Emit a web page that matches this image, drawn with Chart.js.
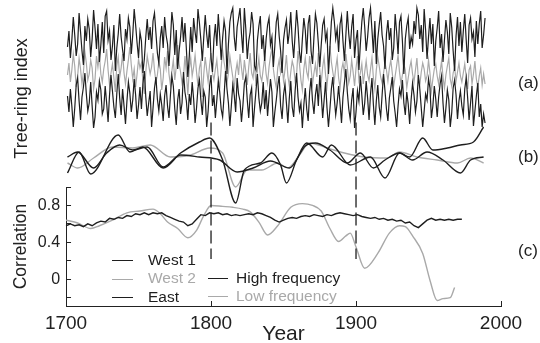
<!DOCTYPE html>
<html>
<head>
<meta charset="utf-8">
<script src="https://cdn.jsdelivr.net/npm/chart.js@4.4.0/dist/chart.umd.min.js"></script>
<style>
  body { margin: 0; background: #fff; }
  #contenedor { position: relative; width: 540px; height: 343px; font-family: 'Liberation Sans', Arial, sans-serif; }
  #grafica { position: absolute; left: 0; top: 0; }
  .panel { position: absolute; font-size: 17px; line-height: 20px; color: #222; }
  .leyenda { position: absolute; font-size: 15.5px; line-height: 18px; white-space: nowrap; }
  .leyenda span { display: inline-block; vertical-align: middle; height: 0; border-top: 1.5px solid; }
</style>
</head>
<body>
<div id="contenedor">
  <canvas id="grafica" width="540" height="343"></canvas>
</div>
<script>
// ---- datos ----
// (a) series anuales 1701-1989, indice desplazado por serie
const inicioAnual = 1701;
const pasoAnual = 1;
const west1Alta = [
  14.0, 15.6, 12.9, 14.7, 17.0, 15.2, 13.1, 14.3, 17.4, 15.5, 13.6, 12.2, 16.1, 14.6, 16.8, 15.8, 13.0,
  14.8, 17.7, 15.9, 13.8, 16.3, 12.5, 14.2, 16.5, 13.4, 17.1, 17.6, 14.7, 15.6, 12.7, 14.1, 16.2, 11.6,
  13.9, 15.3, 17.3, 15.0, 13.7, 12.6, 15.8, 14.8, 16.9, 16.0, 13.3, 15.2, 17.8, 16.2, 14.4, 12.9, 15.5,
  14.6, 11.4, 12.8, 15.0, 16.8, 14.7, 16.0, 13.8, 16.6, 17.4, 15.4, 13.4, 12.4, 14.9, 16.1, 13.9, 17.0,
  15.2, 14.3, 12.1, 14.7, 17.5, 16.2, 13.2, 15.7, 11.8, 13.6, 15.0, 17.0, 14.5, 16.4, 13.8, 11.0, 13.1,
  16.0, 13.5, 16.9, 15.5, 14.4, 17.8, 16.4, 14.7, 12.6, 15.0, 17.2, 15.3, 13.9, 16.2, 12.9, 11.5, 14.8,
  16.3, 14.1, 17.3, 15.1, 12.7, 14.9, 16.6, 15.6, 11.3, 14.3, 16.5, 17.4, 17.9, 15.0, 13.6, 16.0, 16.9,
  17.9, 15.3, 13.4, 17.9, 15.8, 12.8, 14.6, 15.5, 17.5, 16.3, 12.1, 11.7, 14.7, 16.1, 17.1, 13.8, 15.2,
  12.6, 14.8, 16.2, 16.9, 14.2, 15.0, 12.0, 14.1, 16.5, 17.3, 15.1, 13.6, 11.4, 14.7, 15.9, 16.7, 14.3,
  15.5, 17.5, 14.6, 12.9, 15.3, 17.7, 16.0, 13.5, 12.4, 14.8, 16.9, 15.7, 13.3, 16.3, 17.2, 13.6, 12.3,
  15.0, 17.3, 16.4, 14.4, 12.0, 14.2, 16.2, 16.8, 14.7, 15.5, 11.3, 13.9, 16.5, 17.9, 16.6, 14.8, 15.8,
  13.5, 16.3, 17.1, 14.6, 12.6, 15.2, 17.6, 15.3, 13.8, 16.0, 17.3, 12.9, 14.7, 15.7, 11.7, 14.3, 16.5,
  17.9, 16.0, 13.6, 15.0, 16.9, 17.9, 15.7, 13.4, 16.6, 12.3, 14.8, 16.2, 17.5, 15.2, 14.1, 11.8, 15.3,
  16.7, 14.7, 15.9, 12.7, 13.9, 17.3, 15.5, 13.3, 16.5, 17.1, 14.6, 11.3, 14.8, 16.1, 16.9, 13.8, 15.0,
  14.3, 16.6, 15.3, 17.9, 17.2, 14.8, 16.2, 13.5, 17.8, 15.7, 12.8, 15.0, 16.9, 14.3, 16.3, 12.1, 14.6,
  15.9, 17.6, 13.9, 15.3, 12.5, 14.7, 16.7, 15.5, 13.3, 17.4, 16.0, 13.6, 11.6, 15.1, 17.0, 14.1, 16.5,
  13.5, 15.6, 17.3, 14.7, 12.4, 16.2, 16.9, 14.8, 15.5, 13.0, 16.6, 14.3, 16.3, 17.6, 13.9, 15.2, 16.9
];
const west2Alta = [
  11.2, 12.4, 10.5, 11.7, 13.3, 12.1, 10.0, 11.1, 12.9, 11.8, 10.3, 11.5, 13.5, 12.4, 10.7, 11.3, 12.7,
  11.9, 9.8, 10.8, 13.1, 12.0, 13.2, 11.3, 10.5, 11.8, 12.6, 13.8, 11.7, 10.2, 11.4, 12.3, 10.9, 9.5,
  12.1, 13.0, 11.0, 11.9, 13.3, 11.4, 10.3, 11.6, 12.7, 14.0, 12.2, 10.8, 11.8, 10.0, 11.3, 12.8, 11.9,
  12.4, 10.6, 9.3, 11.5, 13.1, 12.2, 11.3, 12.0, 13.4, 11.7, 10.5, 11.2, 12.6, 11.8, 9.7, 10.9, 13.0,
  11.9, 13.6, 11.3, 10.2, 11.6, 12.7, 10.7, 12.0, 14.2, 12.3, 11.5, 10.4, 11.0, 13.1, 11.4, 9.2, 11.8,
  12.9, 11.1, 12.0, 13.2, 11.5, 10.1, 11.9, 12.6, 9.0, 11.3, 13.0, 11.7, 10.5, 12.2, 13.4, 11.4, 10.7,
  11.8, 12.7, 10.9, 9.9, 11.9, 13.7, 12.5, 11.6, 10.4, 11.4, 13.1, 12.0, 11.0, 9.8, 11.5, 12.4, 11.2,
  13.3, 11.9, 10.7, 12.7, 11.5, 10.2, 12.0, 13.4, 11.4, 10.9, 12.5, 10.1, 11.7, 12.9, 11.1, 10.6, 11.8,
  13.0, 11.3, 10.4, 12.0, 13.1, 13.9, 11.8, 10.7, 9.9, 11.9, 12.7, 11.4, 12.2, 10.6, 11.7, 13.2, 11.1,
  10.1, 11.5, 12.6, 12.0, 10.6, 11.2, 13.6, 12.3, 10.7, 9.7, 11.8, 12.9, 11.5, 10.9, 13.1, 11.9, 10.3,
  11.4, 12.3, 11.0, 13.4, 11.7, 10.4, 12.0, 13.0, 11.2, 10.1, 11.8, 14.1, 12.5, 11.5, 10.6, 11.9, 12.9,
  10.9, 9.9, 11.7, 12.4, 11.4, 13.3, 12.0, 10.4, 11.1, 12.7, 11.5, 10.1, 11.9, 13.1, 10.7, 11.4, 12.3,
  10.3, 11.5, 12.6, 11.2, 10.6, 11.8, 12.9, 10.9, 9.8, 11.7, 13.0, 12.1, 11.0, 10.4, 11.4, 12.4, 11.7,
  10.6, 11.9, 12.7, 11.4, 10.1, 11.1, 12.1, 13.2, 11.5, 10.3, 11.2, 12.3, 11.7, 9.9, 10.9, 11.9, 12.6,
  11.3, 10.5, 11.7, 12.9, 10.8, 10.2, 11.5, 12.4, 11.8, 10.6, 11.1, 12.7, 11.4, 9.6, 10.8, 11.8, 12.3,
  11.1, 10.3, 11.5, 12.6, 11.0, 9.9, 11.2, 12.1, 12.9, 10.8, 10.1, 11.4, 12.0, 10.6, 11.5, 12.4, 11.1,
  10.5, 11.4, 12.3, 11.0, 9.8, 11.7, 12.1, 10.3, 11.3, 12.6, 10.8, 10.0, 11.1, 11.9, 10.2, 11.3, 10.3
];
const eastAlta = [
  9.1, 7.5, 9.8, 8.1, 6.0, 7.9, 10.2, 10.9, 8.6, 6.7, 9.0, 10.0, 11.4, 9.3, 7.6, 8.4, 10.5,
  8.1, 5.9, 7.0, 9.5, 8.7, 10.6, 9.7, 7.3, 7.8, 10.1, 8.4, 6.5, 9.2, 11.2, 9.6, 8.0, 6.9,
  9.3, 11.3, 8.9, 7.2, 9.8, 8.1, 6.3, 8.6, 10.5, 9.4, 7.5, 8.7, 10.8, 9.2, 6.8, 8.2, 10.0,
  7.8, 10.3, 11.6, 9.0, 7.1, 8.4, 9.6, 6.0, 7.9, 9.9, 11.0, 8.8, 7.6, 9.3, 8.2, 6.6, 9.1,
  10.2, 8.1, 6.9, 9.2, 11.1, 10.1, 7.8, 6.2, 8.7, 9.8, 7.3, 8.4, 11.5, 9.5, 8.6, 6.7, 9.3,
  8.2, 10.5, 8.8, 6.4, 7.9, 9.9, 10.7, 8.7, 7.2, 9.6, 9.0, 6.0, 7.6, 10.1, 11.2, 8.1, 9.2,
  6.9, 8.7, 10.6, 9.5, 7.8, 7.0, 9.1, 11.6, 9.8, 8.4, 6.1, 8.1, 10.2, 9.2, 7.5, 10.9, 9.3,
  8.6, 6.5, 8.2, 10.4, 11.0, 8.7, 6.9, 9.2, 9.9, 6.0, 7.9, 9.6, 11.3, 8.9, 7.6, 8.4, 10.5,
  7.8, 9.7, 7.1, 9.0, 10.8, 9.5, 6.0, 7.5, 8.7, 10.1, 11.1, 8.1, 6.8, 9.2, 10.3, 8.4, 6.4,
  8.9, 10.6, 8.0, 7.0, 9.6, 11.4, 9.0, 7.6, 8.4, 5.9, 8.2, 9.9, 7.8, 6.6, 9.5, 10.9, 8.6,
  7.3, 9.2, 10.3, 8.1, 11.2, 9.3, 6.9, 8.7, 10.5, 7.9, 6.0, 7.8, 9.8, 11.0, 8.9, 7.2, 8.4,
  10.1, 8.3, 6.4, 9.0, 10.4, 11.8, 9.5, 7.8, 6.8, 8.7, 9.9, 5.9, 7.5, 9.6, 8.6, 11.1, 9.2,
  7.2, 8.4, 10.6, 8.9, 6.7, 9.3, 10.9, 8.2, 6.2, 8.6, 10.2, 8.0, 7.0, 9.2, 11.3, 9.6, 7.8,
  6.6, 8.9, 9.9, 11.0, 8.6, 7.4, 6.0, 8.1, 9.8, 9.1, 10.7, 8.4, 7.2, 9.5, 8.3, 6.3, 8.7,
  10.4, 9.2, 7.5, 8.6, 11.2, 9.8, 7.9, 6.0, 7.6, 9.3, 8.7, 10.8, 9.9, 6.9, 8.1, 10.1, 8.8,
  7.0, 9.0, 10.3, 11.1, 8.4, 6.4, 7.9, 9.7, 8.7, 6.0, 7.4, 9.9, 10.7, 9.2, 6.8, 8.6, 9.6,
  8.1, 7.2, 9.8, 10.9, 8.9, 6.7, 8.4, 10.1, 6.1, 7.6, 9.1, 10.4, 7.0, 8.3, 6.0, 7.3, 6.4
];

// (b) series suavizadas
const west1BajaAños = [1701, 1709, 1717, 1736, 1744, 1753, 1767, 1779, 1792, 1799, 1808, 1817, 1823, 1834, 1842, 1848, 1852, 1859, 1866, 1877, 1883, 1896, 1910, 1920, 1930, 1937, 1946, 1953, 1963, 1972, 1981, 1988];
const west1Baja = [1.4, 3.5, 1.3, 5.2, 3.5, 4.0, 1.9, 3.4, 4.5, 4.9, 2.7, -1.6, 1.7, 2.4, 3.4, 2.2, 0.4, 2.7, 4.4, 3.0, 4.2, 2.2, 3.0, 0.9, 3.4, 3.0, 4.9, 3.7, 3.9, 4.2, 4.5, 6.0];
const west2BajaAños = [1701, 1708, 1719, 1732, 1746, 1758, 1772, 1786, 1799, 1808, 1817, 1825, 1835, 1846, 1853, 1861, 1868, 1880, 1892, 1906, 1921, 1930, 1942, 1956, 1970, 1979, 1988];
const west2Baja = [2.4, 1.9, 2.9, 4.0, 3.9, 4.2, 3.0, 3.2, 3.9, 3.4, 0.0, 1.7, 1.7, 2.4, 1.9, 3.2, 4.4, 3.9, 3.4, 3.0, 2.9, 3.5, 3.0, 2.7, 2.4, 2.9, 2.4];
const eastBajaAños = [1701, 1708, 1719, 1728, 1737, 1746, 1756, 1767, 1779, 1792, 1806, 1818, 1829, 1841, 1854, 1865, 1872, 1882, 1894, 1903, 1912, 1920, 1930, 1939, 1949, 1960, 1972, 1979, 1988];
const eastBaja = [3.0, 3.5, 1.9, 3.4, 4.2, 3.7, 4.0, 2.0, 3.2, 3.0, 2.7, 1.5, 1.9, 2.6, 1.9, 4.1, 4.4, 3.7, 2.4, 3.4, 1.9, 2.7, 3.4, 2.7, 3.5, 2.7, 1.4, 2.7, 3.0];

// (c) correlaciones moviles
const inicioCorrAlta = 1700;
const pasoCorrAlta = 3;
const corrAlta = [
  0.58, 0.60, 0.58, 0.59, 0.57, 0.60, 0.58, 0.61, 0.63, 0.62,
  0.66, 0.65, 0.67, 0.66, 0.69, 0.68, 0.71, 0.70, 0.72, 0.70,
  0.72, 0.71, 0.72, 0.69, 0.67, 0.65, 0.63, 0.62, 0.58, 0.60,
  0.65, 0.70, 0.69, 0.72, 0.71, 0.72, 0.70, 0.71, 0.69, 0.70,
  0.69, 0.70, 0.71, 0.70, 0.72, 0.71, 0.69, 0.67, 0.64, 0.62,
  0.64, 0.66, 0.67, 0.66, 0.68, 0.69, 0.68, 0.70, 0.69, 0.68,
  0.70, 0.69, 0.71, 0.72, 0.71, 0.70, 0.69, 0.70, 0.68, 0.67,
  0.66, 0.67, 0.65, 0.66, 0.64, 0.65, 0.63, 0.64, 0.61, 0.62,
  0.58, 0.56, 0.60, 0.64, 0.66, 0.64, 0.65, 0.64, 0.65, 0.64,
  0.65, 0.65
];
const corrBajaAños = [1700, 1708, 1717, 1723, 1732, 1742, 1751, 1760, 1765, 1770, 1777, 1784, 1790, 1795, 1800, 1808, 1815, 1822, 1827, 1833, 1839, 1846, 1855, 1863, 1870, 1876, 1882, 1888, 1893, 1896, 1900, 1906, 1915, 1923, 1930, 1934, 1939, 1946, 1951, 1956, 1960, 1965, 1968];
const corrBaja = [0.64, 0.61, 0.55, 0.58, 0.64, 0.72, 0.74, 0.76, 0.71, 0.62, 0.55, 0.45, 0.53, 0.69, 0.80, 0.79, 0.78, 0.76, 0.73, 0.62, 0.48, 0.58, 0.78, 0.82, 0.80, 0.74, 0.55, 0.41, 0.47, 0.50, 0.35, 0.12, 0.28, 0.50, 0.58, 0.57, 0.47, 0.28, -0.01, -0.23, -0.21, -0.20, -0.09];

// lineas discontinuas en 1800 y 1900 (extremos en unidades de correlacion)
const añosMarca = [1800, 1900];
const extremosMarca = [1.7, 0.22];

// ejes
const ticksAños = [1700, 1800, 1900, 2000];
const ticksCorr = [-0.2, 0, 0.2, 0.4, 0.6, 0.8, 1.0];
const etiquetasCorr = [0, 0.4, 0.8];

// leyenda y etiquetas de panel
const nombresSitios = ['West 1', 'West 2', 'East'];
const nombresBandas = ['High frequency', 'Low frequency'];
const etiquetasPanel = ['(a)', '(b)', '(c)'];

const NEGRO = '#1e1e1e';
const GRIS = '#a9a9a9';
const coloresSitios = [NEGRO, GRIS, NEGRO];
const coloresBandas = [NEGRO, GRIS];

// ---- construccion ----
function serieRegular(inicio, paso, valores) {
  return valores.map((v, i) => ({x: inicio + paso * i, y: v}));
}
function serieIrregular(años, valores) {
  return años.map((a, i) => ({x: a, y: valores[i]}));
}
function linea(label, datos, color, eje, suave, ancho) {
  return {
    label: label,
    data: datos,
    borderColor: color,
    borderWidth: ancho || 1.4,
    pointRadius: 0,
    yAxisID: eje,
    clip: false,
    cubicInterpolationMode: suave ? 'monotone' : 'default',
    tension: suave ? 0.4 : 0
  };
}

var datasets = [
  linea('West 1 (a)', serieRegular(inicioAnual, pasoAnual, west1Alta), NEGRO, 'yTR', false, 1.2),
  linea('East (a)', serieRegular(inicioAnual, pasoAnual, eastAlta), NEGRO, 'yTR', false, 1.2),
  linea('West 1 (b)', serieIrregular(west1BajaAños, west1Baja), NEGRO, 'yTR', true),
  linea('East (b)', serieIrregular(eastBajaAños, eastBaja), NEGRO, 'yTR', true),
  linea('High frequency', serieRegular(inicioCorrAlta, pasoCorrAlta, corrAlta), NEGRO, 'yC', false),
  linea('West 2 (a)', serieRegular(inicioAnual, pasoAnual, west2Alta), GRIS, 'yTR', false, 1.2),
  linea('West 2 (b)', serieIrregular(west2BajaAños, west2Baja), GRIS, 'yTR', true),
  linea('Low frequency', serieIrregular(corrBajaAños, corrBaja), GRIS, 'yC', true)
];
añosMarca.forEach(a => {
  var d = linea('marca ' + a, extremosMarca.map(v => ({x: a, y: v})), NEGRO, 'yC', false, 1.3);
  d.borderDash = [13, 5];
  datasets.unshift(d);
});

Chart.defaults.font.family = "'Liberation Sans', Arial, sans-serif";
Chart.defaults.color = '#222';

var grafica = new Chart(document.getElementById('grafica'), {
  type: 'line',
  data: {datasets: datasets},
  options: {
    responsive: false,
    animation: false,
    layout: {padding: {top: 10, left: 7, right: 39, bottom: 0}},
    plugins: {legend: {display: false}, tooltip: {enabled: false}},
    scales: {
      x: {
        type: 'linear', min: 1700, max: 2000,
        afterBuildTicks: s => { s.ticks = ticksAños.map(v => ({value: v})); },
        ticks: {font: {size: 19}, color: '#222', padding: 11.6, maxRotation: 0, autoSkip: false, callback: v => String(v)},
        grid: {display: true, drawOnChartArea: false, drawTicks: true, tickLength: -5, color: '#222'},
        border: {display: true, color: '#222', width: 1},
        title: {display: true, text: 'Year', font: {size: 21}, color: '#222', padding: {top: -25.2, bottom: -4}}
      },
      yC: {
        type: 'linear', position: 'left', stack: 'paneles', stackWeight: 119,
        min: -0.29, max: 1.0,
        afterBuildTicks: s => { s.ticks = ticksCorr.map(v => ({value: v})); },
        // sin relleno extra arriba/abajo por las etiquetas vacias
        afterFit: s => { s.paddingTop = 0; s.paddingBottom = 0; },
        ticks: {font: {size: 16}, color: '#222', padding: 11, autoSkip: false, callback: v => etiquetasCorr.includes(v) ? String(v) : ''},
        grid: {display: true, drawOnChartArea: false, drawTicks: true, tickLength: -5, color: '#222'},
        border: {display: true, color: '#222', width: 1},
        title: {display: true, text: 'Correlation', font: {size: 17.5}, color: '#222', padding: {top: 4, bottom: -5.2}}
      },
      yTR: {
        type: 'linear', position: 'left', stack: 'paneles', stackWeight: 177,
        min: 0, max: 17.7,
        ticks: {display: false},
        grid: {display: false},
        border: {display: false},
        title: {display: true, text: 'Tree-ring index', font: {size: 18}, color: '#222', padding: {top: 4, bottom: 0}}
      }
    }
  }
});

// etiquetas (a), (b), (c)
var contenedor = document.getElementById('contenedor');
var topsPanel = [73, 147, 241];
etiquetasPanel.forEach((t, i) => {
  var div = document.createElement('div');
  div.className = 'panel';
  div.style.left = '518px';
  div.style.top = topsPanel[i] + 'px';
  div.textContent = t;
  contenedor.appendChild(div);
});

// leyenda en dos columnas
function itemLeyenda(texto, color, x, y, largo, hueco) {
  var div = document.createElement('div');
  div.className = 'leyenda';
  div.style.left = x + 'px';
  div.style.top = y + 'px';
  div.style.color = color;
  div.innerHTML = `<span style="width:${largo}px;margin-right:${hueco}px;border-color:${color}"></span>${texto}`;
  contenedor.appendChild(div);
}
nombresSitios.forEach((n, i) => itemLeyenda(n, coloresSitios[i], 112, 251 + i * 18.3, 21, 15));
nombresBandas.forEach((n, i) => itemLeyenda(n, coloresBandas[i], 208, 268.5 + i * 18.3, 20, 8));
</script>
</body>
</html>
